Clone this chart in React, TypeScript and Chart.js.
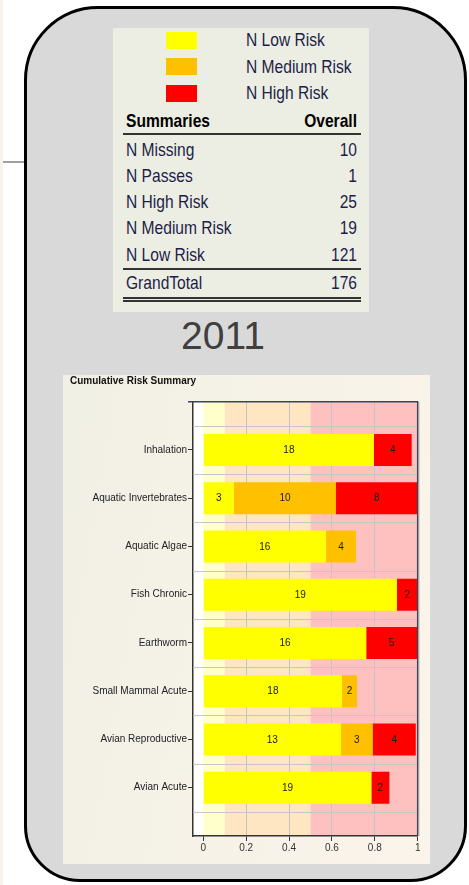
import React, { useEffect, useRef } from 'react';
import { Chart, registerables } from 'chart.js';

Chart.register(...registerables);

// ---------- data ----------
const categories = [
  'Inhalation',
  'Aquatic Invertebrates',
  'Aquatic Algae',
  'Fish Chronic',
  'Earthworm',
  'Small Mammal Acute',
  'Avian Reproductive',
  'Avian Acute',
];
const lowCounts = [18, 3, 16, 19, 16, 18, 13, 19];
const mediumCounts = [0, 10, 4, 0, 0, 2, 3, 0];
const highCounts = [4, 8, 0, 2, 5, 0, 4, 2];
const lowShare = [0.796, 0.143, 0.572, 0.903, 0.76, 0.647, 0.642, 0.784];
const mediumShare = [0, 0.476, 0.14, 0, 0, 0.07, 0.148, 0];
const highShare = [0.176, 0.381, 0, 0.097, 0.237, 0, 0.201, 0.084];
const xTicks = [0, 0.2, 0.4, 0.6, 0.8, 1];
const bandEdges = [0, 0.1, 0.5, 1];
const bandColors = ['#FFFFCC', '#FFE6C2', '#FFC0C0'];

const legendItems = ['N Low Risk', 'N Medium Risk', 'N High Risk'];
const seriesColors = ['#FFFF00', '#FFC000', '#FF0000'];
const summaryLabels = ['N Missing', 'N Passes', 'N High Risk', 'N Medium Risk', 'N Low Risk'];
const summaryValues = [10, 1, 25, 19, 121];
const grandTotalLabel = 'GrandTotal';
const grandTotal = 176;
const yearLabel = '2011';
const chartTitle = 'Cumulative Risk Summary';

const sans = '"Liberation Sans", Arial, sans-serif';

const countsBySeries = [lowCounts, mediumCounts, highCounts];

const bandsPlugin = {
  id: 'bands',
  beforeDraw(chart: any) {
    const { ctx, chartArea, scales } = chart;
    const x = scales.x;
    ctx.save();
    ctx.fillStyle = '#FFFFFF';
    ctx.fillRect(chartArea.left, chartArea.top, chartArea.right - chartArea.left, chartArea.bottom - chartArea.top);
    for (let i = 0; i < bandColors.length; i++) {
      const a = x.getPixelForValue(bandEdges[i]);
      const b = x.getPixelForValue(bandEdges[i + 1]);
      ctx.fillStyle = bandColors[i];
      ctx.fillRect(a, chartArea.top, b - a, chartArea.bottom - chartArea.top);
    }
    ctx.restore();
  },
};

const rowGridPlugin = {
  id: 'rowGrid',
  beforeDatasetsDraw(chart: any) {
    const { ctx, chartArea, scales } = chart;
    const y = scales.y;
    ctx.save();
    ctx.strokeStyle = '#C6C6C6';
    ctx.lineWidth = 1;
    for (let i = 0; i <= categories.length; i++) {
      const py = Math.round(y.getPixelForValue(i - 0.5)) + 0.5;
      ctx.beginPath();
      ctx.moveTo(chartArea.left, py);
      ctx.lineTo(chartArea.right, py);
      ctx.stroke();
    }
    ctx.restore();
  },
};

const labelsPlugin = {
  id: 'segLabels',
  afterDatasetsDraw(chart: any) {
    const { ctx } = chart;
    ctx.save();
    ctx.font = '10px ' + sans;
    ctx.fillStyle = '#1a1a1a';
    ctx.textAlign = 'center';
    ctx.textBaseline = 'middle';
    chart.data.datasets.forEach((ds: any, d: number) => {
      const meta = chart.getDatasetMeta(d);
      meta.data.forEach((el: any, i: number) => {
        const c = countsBySeries[d][i];
        if (!c) return;
        const p = el.getProps(['x', 'y', 'base'], true);
        ctx.fillText(String(c), (p.x + p.base) / 2, p.y + 0.5);
      });
    });
    ctx.restore();
  },
};

const framePlugin = {
  id: 'frame',
  afterDraw(chart: any) {
    const { ctx, chartArea } = chart;
    ctx.save();
    ctx.strokeStyle = '#3c4456';
    ctx.lineWidth = 1.5;
    ctx.beginPath();
    ctx.moveTo(chartArea.left - 5, chartArea.top);
    ctx.lineTo(chartArea.right, chartArea.top);
    ctx.lineTo(chartArea.right, chartArea.bottom);
    ctx.stroke();
    ctx.strokeStyle = 'rgba(120,130,150,0.35)';
    ctx.lineWidth = 1;
    ctx.beginPath();
    ctx.moveTo(chartArea.right + 1.5, chartArea.top + 1);
    ctx.lineTo(chartArea.right + 1.5, chartArea.bottom);
    ctx.stroke();
    ctx.restore();
  },
};

function RiskChart() {
  const ref = useRef<HTMLCanvasElement | null>(null);
  useEffect(() => {
    if (!ref.current) return;
    Chart.defaults.font.family = sans;
    const shares = [lowShare, mediumShare, highShare];
    const chart = new Chart(ref.current, {
      type: 'bar',
      data: {
        datasets: legendItems.map((label, d) => ({
          label,
          data: shares[d].map((v, i) => ({ x: v, y: i })),
          backgroundColor: seriesColors[d],
          borderWidth: 0,
        })),
      },
      options: {
        indexAxis: 'y',
        animation: false,
        responsive: true,
        maintainAspectRatio: false,
        devicePixelRatio: 1,
        layout: { padding: { left: 7, right: 12.3, top: 0, bottom: 0 } },
        datasets: { bar: { categoryPercentage: 0.8, barPercentage: 0.828 } } as any,
        plugins: {
          legend: { display: false },
          tooltip: { enabled: false },
          title: {
            display: true,
            text: chartTitle,
            align: 'start',
            color: '#111111',
            font: { size: 10, weight: 'bold', family: sans, lineHeight: 1.2 },
            padding: { top: 0, bottom: 14.7 },
          },
        },
        scales: {
          x: {
            type: 'linear',
            min: -0.048,
            max: 1,
            stacked: true,
            offset: false,
            afterBuildTicks: (s: any) => {
              s.ticks = xTicks.map((v) => ({ value: v }));
            },
            afterFit: (s: any) => {
              s.height = 28;
            },
            grid: {
              offset: false,
              color: (c: any) =>
                c.tick && c.tick.value > 0 && c.tick.value < 1 ? '#C4C4C4' : 'rgba(0,0,0,0)',
              tickColor: '#333333',
              tickLength: 5,
              lineWidth: 1,
            },
            border: { color: '#333333', width: 1.5 },
            ticks: {
              padding: 1,
              color: '#333333',
              font: { size: 10 },
              autoSkip: false,
              maxRotation: 0,
              callback: (v: any) => String(v),
            },
          },
          y: {
            type: 'linear',
            min: -1,
            max: 8,
            reverse: true,
            stacked: true,
            offset: false,
            afterBuildTicks: (s: any) => {
              s.ticks = categories.map((_, i) => ({ value: i }));
            },
            afterFit: (s: any) => {
              s.width = 123;
            },
            grid: { offset: false, drawOnChartArea: false, tickColor: '#333333', tickLength: 5 },
            border: { color: '#333333', width: 1.5 },
            ticks: {
              padding: 1,
              color: '#222222',
              font: { size: 10 },
              autoSkip: false,
              callback: (v: any) => categories[v] ?? '',
            },
          },
        },
      } as any,
      plugins: [bandsPlugin, rowGridPlugin, labelsPlugin, framePlugin],
    });
    return () => chart.destroy();
  }, []);
  return <canvas ref={ref} />;
}

const abs = (s: React.CSSProperties): React.CSSProperties => ({ position: 'absolute', ...s });

export default function App() {
  const legendCenters = [40.3, 66.8, 93.2];
  const rowCenters = summaryLabels.map((_, i) => 149.7 + i * 26.2);
  const lh = 22;
  const squeeze = 0.82;
  const textStyle: React.CSSProperties = {
    fontFamily: sans,
    fontSize: 19,
    lineHeight: lh + 'px',
    whiteSpace: 'nowrap',
    color: '#1e1e48',
    transform: `scaleX(${squeeze})`,
    transformOrigin: 'left center',
  };
  const rightStyle: React.CSSProperties = {
    ...textStyle,
    left: 207,
    width: 150,
    textAlign: 'right',
    transformOrigin: 'right center',
  };
  return (
    <div style={abs({ left: 0, top: 0, width: 469, height: 885, background: '#FFFFFF', overflow: 'hidden' })}>
      <div style={abs({ left: 0, top: 0, width: 3, height: 885, background: '#F7F2EA' })} />
      <div style={abs({ left: 3, top: 161, width: 21, height: 1.5, background: '#A0A0A0' })} />
      <div
        style={abs({
          left: 24,
          top: 6,
          width: 443,
          height: 876,
          boxSizing: 'border-box',
          border: '3px solid #000000',
          borderRadius: '74px 74px 56px 56px',
          background: '#D9D9D9',
        })}
      />
      {/* legend + summary table panel */}
      <div style={abs({ left: 113, top: 28, width: 256, height: 284, background: '#ECEEE4' })} />
      {legendItems.map((t, i) => (
        <React.Fragment key={t}>
          <div
            style={abs({
              left: 165.5,
              top: legendCenters[i] - 8.7,
              width: 31.5,
              height: 17.4,
              background: seriesColors[i],
            })}
          />
          <div style={abs({ ...textStyle, left: 246, top: legendCenters[i] - lh / 2 })}>{t}</div>
        </React.Fragment>
      ))}
      <div style={abs({ ...textStyle, left: 126, top: 120.5 - lh / 2, fontWeight: 'bold', color: '#000000' })}>
        Summaries
      </div>
      <div style={abs({ ...rightStyle, top: 120.5 - lh / 2, fontWeight: 'bold', color: '#000000' })}>Overall</div>
      <div style={abs({ left: 123, top: 133.3, width: 238, height: 2, background: '#333333' })} />
      {summaryLabels.map((t, i) => (
        <React.Fragment key={t}>
          <div style={abs({ ...textStyle, left: 126, top: rowCenters[i] - lh / 2 })}>{t}</div>
          <div style={abs({ ...rightStyle, top: rowCenters[i] - lh / 2 })}>{summaryValues[i]}</div>
        </React.Fragment>
      ))}
      <div style={abs({ left: 123, top: 268.3, width: 238, height: 2, background: '#333333' })} />
      <div style={abs({ ...textStyle, left: 126, top: 282.5 - lh / 2 })}>{grandTotalLabel}</div>
      <div style={abs({ ...rightStyle, top: 282.5 - lh / 2 })}>{grandTotal}</div>
      <div style={abs({ left: 123, top: 296.7, width: 238, height: 2, background: '#333333' })} />
      <div style={abs({ left: 123, top: 300, width: 238, height: 2, background: '#333333' })} />
      {/* year */}
      <div
        style={abs({
          left: 123,
          top: 316,
          width: 200,
          textAlign: 'center',
          fontFamily: sans,
          fontSize: 39,
          lineHeight: '39px',
          color: '#3f3f3f',
        })}
      >
        {yearLabel}
      </div>
      {/* chart panel */}
      <div
        style={abs({
          left: 63,
          top: 375,
          width: 367,
          height: 489,
          background: 'linear-gradient(100deg, #F1F0E5 0%, #F6F2E8 50%, #FBF4EB 100%)',
        })}
      >
        <div style={{ position: 'relative', width: 367, height: 489 }}>
          <RiskChart />
        </div>
      </div>
    </div>
  );
}
